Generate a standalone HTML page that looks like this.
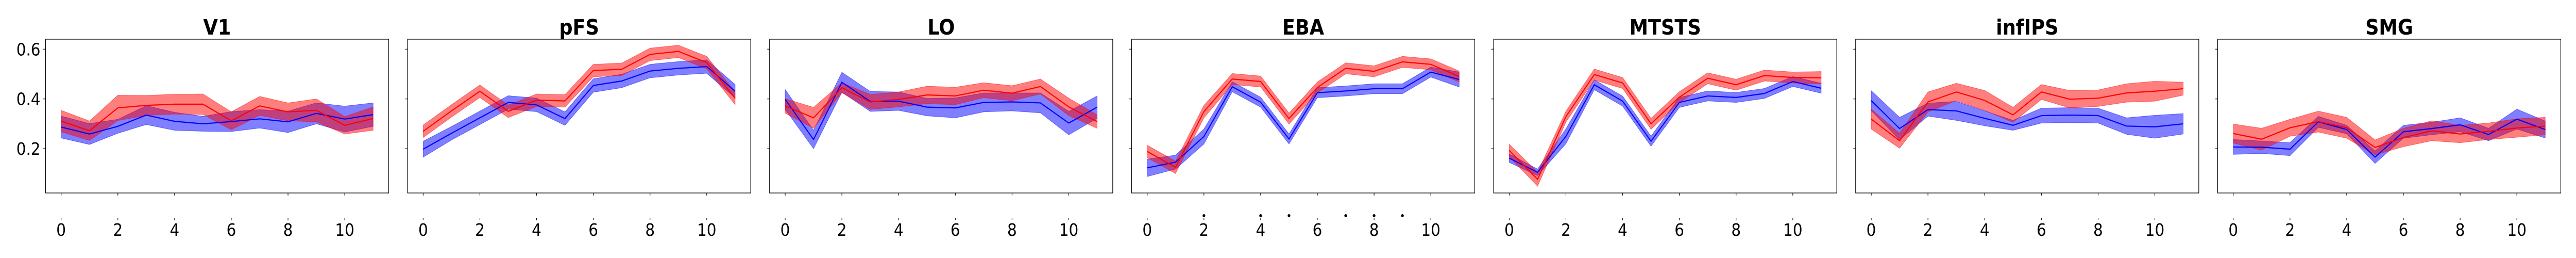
<!DOCTYPE html>
<html><head><meta charset="utf-8"><style>
html,body{margin:0;padding:0;background:#fff;width:100%;height:100%;overflow:hidden;}
svg{display:block;width:100%;height:100%;font-family:"DejaVu Sans","Liberation Sans",sans-serif;}
</style></head><body>
<svg id="fig" viewBox="0 0 5600 500" preserveAspectRatio="none" xmlns="http://www.w3.org/2000/svg"></svg>
<script>
const panelTitles = ["V1","pFS","LO","EBA","MTSTS","infIPS","SMG"];
const timepoints = [0,1,2,3,4,5,6,7,8,9,10,11];
const xTickValues = [0,2,4,6,8,10];
const yTickValues = [0.2,0.4,0.6];
const yTickLabels = ["0.2","0.4","0.6"];
const redMean = [
 [0.311,0.272,0.364,0.374,0.379,0.379,0.312,0.372,0.348,0.354,0.294,0.321],
 [0.270,0.352,0.431,0.350,0.395,0.392,0.514,0.519,0.579,0.591,0.546,0.402],
 [0.372,0.324,0.445,0.388,0.398,0.416,0.412,0.435,0.423,0.450,0.368,0.309],
 [0.189,0.125,0.349,0.480,0.470,0.321,0.446,0.523,0.511,0.549,0.539,0.490],
 [0.193,0.077,0.329,0.498,0.464,0.300,0.407,0.483,0.457,0.494,0.486,0.485],
 [0.319,0.232,0.388,0.428,0.394,0.336,0.428,0.399,0.403,0.424,0.431,0.441],
 [0.261,0.238,0.284,0.309,0.284,0.205,0.245,0.272,0.259,0.270,0.283,0.291]
];
const redErr = [
 [0.043,0.039,0.051,0.040,0.040,0.041,0.036,0.038,0.036,0.046,0.035,0.047],
 [0.025,0.025,0.025,0.025,0.025,0.025,0.025,0.025,0.025,0.025,0.025,0.025],
 [0.029,0.042,0.020,0.030,0.030,0.035,0.035,0.030,0.030,0.030,0.035,0.027],
 [0.025,0.025,0.025,0.022,0.022,0.022,0.022,0.022,0.022,0.022,0.022,0.022],
 [0.025,0.028,0.022,0.022,0.022,0.022,0.022,0.022,0.022,0.022,0.022,0.025],
 [0.040,0.030,0.040,0.035,0.040,0.030,0.030,0.035,0.033,0.037,0.040,0.026],
 [0.038,0.044,0.034,0.042,0.042,0.030,0.037,0.040,0.035,0.033,0.037,0.035]
];
const blueMean = [
 [0.287,0.259,0.290,0.335,0.310,0.300,0.309,0.320,0.308,0.342,0.319,0.337],
 [0.198,0.262,0.324,0.386,0.376,0.321,0.454,0.472,0.512,0.523,0.530,0.431],
 [0.398,0.237,0.467,0.390,0.391,0.367,0.364,0.386,0.388,0.384,0.303,0.367],
 [0.123,0.146,0.249,0.449,0.387,0.239,0.425,0.432,0.441,0.441,0.508,0.478],
 [0.162,0.105,0.250,0.457,0.391,0.230,0.386,0.412,0.406,0.422,0.470,0.443],
 [0.393,0.281,0.357,0.352,0.322,0.294,0.333,0.335,0.333,0.291,0.288,0.300],
 [0.207,0.206,0.198,0.308,0.277,0.166,0.268,0.281,0.296,0.257,0.319,0.277]
];
const blueErr = [
 [0.044,0.042,0.028,0.038,0.036,0.030,0.040,0.037,0.043,0.042,0.052,0.047],
 [0.032,0.027,0.027,0.027,0.027,0.027,0.027,0.027,0.027,0.027,0.027,0.027],
 [0.040,0.037,0.040,0.040,0.037,0.035,0.040,0.038,0.036,0.040,0.047,0.045],
 [0.035,0.028,0.030,0.020,0.020,0.020,0.020,0.020,0.020,0.020,0.020,0.030],
 [0.017,0.013,0.030,0.020,0.020,0.020,0.020,0.020,0.020,0.020,0.020,0.020],
 [0.040,0.045,0.026,0.038,0.030,0.020,0.030,0.030,0.030,0.033,0.046,0.041],
 [0.030,0.025,0.026,0.022,0.017,0.025,0.026,0.025,0.028,0.025,0.040,0.034]
];
const ebaMarkerTimes = [2,4,5,7,8,9];

const NS="http://www.w3.org/2000/svg";
const svg=document.getElementById('fig');
const PANEL_LEFT=99, PANEL_PITCH=787, PANEL_W=746, TOP=76, BOTTOM=374;
const XMIN=-0.55, XMAX=11.55, YMIN=0.022, YMAX=0.6+(95.3-76)/482.5;
function mk(tag,attrs,parent){const e=document.createElementNS(NS,tag);for(const k in attrs)e.setAttribute(k,attrs[k]);(parent||svg).appendChild(e);return e;}
function xScale(p,v){return PANEL_LEFT+p*PANEL_PITCH+(v-XMIN)/(XMAX-XMIN)*PANEL_W;}
function yScale(v){return BOTTOM-(v-YMIN)/(YMAX-YMIN)*(BOTTOM-TOP);}

panelTitles.forEach((title,p)=>{
  const g=mk('g',{});
  
  
  const x0=PANEL_LEFT+p*PANEL_PITCH;
  const clipId='clip'+p;
  const cp=mk('clipPath',{id:clipId},g);
  mk('rect',{x:x0,y:TOP,width:PANEL_W,height:BOTTOM-TOP},cp);
  const plot=mk('g',{'clip-path':'url(#'+clipId+')'},g);
  const series=[{m:blueMean[p],e:blueErr[p],fill:'#0000ff',line:'#0000ff',n:'blue'},{m:redMean[p],e:redErr[p],fill:'#ff0000',line:'#ff0000',n:'red'}];
  series.forEach(s=>{
    let up=timepoints.map((t,i)=>xScale(p,t)+','+yScale(s.m[i]+s.e[i]));
    let dn=timepoints.map((t,i)=>xScale(p,t)+','+yScale(s.m[i]-s.e[i])).reverse();
    const band=mk('polygon',{points:up.concat(dn).join(' '),fill:s.fill,'fill-opacity':0.5,stroke:s.fill,'stroke-opacity':0.5,'stroke-width':1},plot);
    
    
  });
  series.forEach(s=>{
    const ln=mk('polyline',{points:timepoints.map((t,i)=>xScale(p,t)+','+yScale(s.m[i])).join(' '),fill:'none',stroke:s.line,'stroke-width':2.2,'stroke-linejoin':'miter'},plot);
    
    
  });
  const frame=mk('rect',{x:x0,y:TOP,width:PANEL_W,height:BOTTOM-TOP,fill:'none',stroke:'#000','stroke-width':1.3},g);
  
  
  const t=mk('text',{x:x0+PANEL_W/2,y:67,'text-anchor':'middle','font-size':41,'font-weight':'bold'},g);
  t.textContent=title;
  
  
  yTickValues.forEach((v,i)=>{
    const y=yScale(v);
    mk('line',{x1:x0-5,x2:x0,y1:y,y2:y,stroke:'#000','stroke-width':1.2},g);
    if(p===0){
      const lb=mk('text',{x:x0-11,y:y+12,'text-anchor':'end','font-size':33},g);
      lb.textContent=yTickLabels[i];
      
      
    }
  });
  xTickValues.forEach(v=>{
    const x=xScale(p,v);
    mk('line',{x1:x,x2:x,y1:BOTTOM,y2:BOTTOM+5,stroke:'#000','stroke-width':1.2},g);
    mk('line',{x1:x,x2:x,y1:422,y2:427,stroke:'#000','stroke-width':1.2},g);
    const lb=mk('text',{x:x,y:457,'text-anchor':'middle','font-size':33},g);
    lb.textContent=String(v);
    
    
  });
  if(title==='EBA'){
    ebaMarkerTimes.forEach(v=>{
      const c=mk('circle',{cx:xScale(p,v),cy:418,r:3,fill:'#000'},g);
      
      
    });
  }
});
</script>
</body></html>
